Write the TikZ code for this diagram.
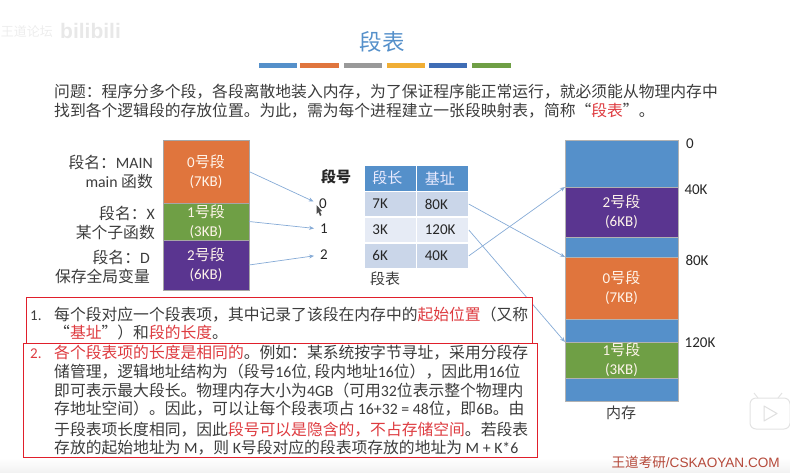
\documentclass[tikz,border=0pt]{standalone}
\usepackage{fontspec}
\setmainfont{Noto Sans CJK SC}
\newfontfamily\latfont{Carlito}
\newfontfamily\markfont{Liberation Sans}
\usepackage{tikz}
\usetikzlibrary{positioning,matrix,arrows.meta}
\definecolor{cOrange}{HTML}{E0753D}
\definecolor{cGreen}{HTML}{6F9F45}
\definecolor{cPurple}{HTML}{5A3590}
\definecolor{cBlue}{HTML}{5590CA}
\definecolor{cGrey}{HTML}{999999}
\definecolor{cYellow}{HTML}{F0AE35}
\definecolor{cDeep}{HTML}{3F6DB5}
\definecolor{cText}{HTML}{3C3C3C}
\definecolor{cRed}{HTML}{DE3B40}
\definecolor{cFrame}{HTML}{E01F2B}
\definecolor{cArrow}{HTML}{86ABD6}
\definecolor{cRowA}{HTML}{CAD6E9}
\definecolor{cRowB}{HTML}{E6EBF5}
\definecolor{cMark}{HTML}{B5493A}
\newcommand{\enf}[1]{{\latfont #1}}
\newcommand{\redt}[1]{\textcolor{cRed}{#1}}
\newcommand{\segtxt}[2]{\enf{#1}号段\\\enf{(#2KB)}}
\newcommand{\bodyfont}{\fontsize{15.8}{19}\selectfont}
\newcommand{\smallfont}{\fontsize{15}{19}\selectfont}
\tikzset{
    seg/.style={draw=gray!70, line width=0.4pt, inner sep=0pt, outer sep=0pt, minimum width=86pt},
    memseg/.style={draw=gray!60, line width=0.4pt, inner sep=0pt, outer sep=0pt, minimum width=113pt},
    segtext/.style={align=center, text=white!92!orange, font=\smallfont, inner sep=0pt},
    namelabel/.style={align=right, anchor=east, text=cText, font=\bodyfont, inner sep=0pt},
    numlabel/.style={text=black!85, font=\smallfont\latfont, inner sep=0pt},
    redbox/.style={fill=white, anchor=north west, inner sep=0pt, outer sep=0pt},
    redline/.style={draw=cFrame, line width=1.1pt},
    bodyline/.style={anchor=base west, text=cText, font=\bodyfont, inner sep=0pt},
    linkarrow/.style={{Stealth[length=5pt,width=4pt]}-, cArrow, line width=0.7pt},
}
\begin{document}
\begin{tikzpicture}[x=1pt,y=-1pt]
\useasboundingbox (0,0) rectangle (790,472);
\shade [top color=white, bottom color=gray!10] (0,458) rectangle (790,472);

% faint logo top left
\node (logoA) [anchor=east, text=gray!14, font=\fontsize{13}{15}\selectfont, inner sep=0pt] at (53,32) {王道论坛};
\node (logoB) [anchor=west, text=gray!18, font=\fontsize{21}{24}\bfseries\markfont, inner sep=0pt] at (60,31) {bilibili};

% title
\node (title) [text=cBlue, font=\fontsize{22.5}{26}\selectfont, inner sep=0pt] at (382,42) {段表};
\foreach \a/\b/\c in {259/297/cBlue,300/339/cOrange,344/382/cGrey,387/425/cYellow,429/467/cDeep,472/511/cGreen}
    \fill [\c] (\a,62.5) rectangle (\b,67.5);

% intro
\node (introA) [bodyline] at (54,97) {问题：程序分多个段，各段离散地装入内存，为了保证程序能正常运行，就必须能从物理内存中};
\node (introB) [bodyline] at (54,116) {找到各个逻辑段的存放位置。为此，需为每个进程建立一张段映射表，简称“\redt{段表}”。};

% program segments
\node (S0) [seg, fill=cOrange, minimum height=63pt, anchor=north west, label={[segtext]center:\segtxt{0}{7}}] at (163,140) {};
\node (S1) [seg, fill=cGreen, minimum height=37pt, below=0pt of S0, label={[segtext]center:\segtxt{1}{3}}] {};
\node (S2) [seg, fill=cPurple, minimum height=50pt, below=0pt of S1, label={[segtext]center:\segtxt{2}{6}}] {};

\node (nameA) [namelabel] at (153,171.5) {段名：\enf{MAIN}\\\enf{main} 函数};
\node (nameB) [namelabel] at (155,222.5) {段名：\enf{X}\\某个子函数};
\node (nameC) [namelabel] at (150,267) {段名：\enf{D}\\保存全局变量};

% segment numbers
\node (noHead) [text=black!85, font=\smallfont\bfseries, inner sep=0pt] at (336,177) {段号};
\node (no0) [numlabel] at (323,204) {0};
\node (no1) [numlabel] at (324,229) {1};
\node (no2) [numlabel] at (324,255) {2};

% segment table
\matrix (T) [matrix of nodes, anchor=north west, inner sep=0pt, outer sep=0pt,
    column sep=-\pgflinewidth, row sep=-\pgflinewidth,
    nodes={draw=white, line width=0.8pt, minimum height=25.5pt, inner ysep=0pt, inner xsep=8pt,
        text width=36pt, align=left, text=black!85, font=\smallfont\latfont, anchor=center},
    row 1/.style={nodes={fill=cBlue, text=white!92!blue, font=\smallfont}},
    row 2/.style={nodes={fill=cRowA}},
    row 3/.style={nodes={fill=cRowB}},
    row 4/.style={nodes={fill=cRowA}},] at (364,165) {
    段长 & 基址\\
    7K & 80K\\
    3K & 120K\\
    6K & 40K\\};
\node (tableName) [text=cText, font=\smallfont, inner sep=0pt] at (385,279) {段表};

% memory
\node (M0) [memseg, fill=cBlue, minimum height=47pt, anchor=north west] at (565,140) {};
\node (M1) [memseg, fill=cPurple, minimum height=50pt, below=0pt of M0, label={[segtext]center:\segtxt{2}{6}}] {};
\node (M2) [memseg, fill=cBlue, minimum height=20pt, below=0pt of M1] {};
\node (M3) [memseg, fill=cOrange, minimum height=62pt, below=0pt of M2, label={[segtext]center:\segtxt{0}{7}}] {};
\node (M4) [memseg, fill=cBlue, minimum height=23pt, below=0pt of M3] {};
\node (M5) [memseg, fill=cGreen, minimum height=36pt, below=0pt of M4, label={[segtext]center:\segtxt{1}{3}}] {};
\node (M6) [memseg, fill=cBlue, minimum height=23pt, below=0pt of M5] {};
\node (memName) [text=cText, font=\smallfont, inner sep=0pt] at (621,413) {内存};

\foreach \ypos/\xpos/\txt [count=\i] in {144/690/0,190/696/40K,260/697/80K,343/700/120K}
    \node (addr\i) [numlabel] at (\xpos,\ypos) {\txt};

% connectors
\foreach \i in {0,1,2}
    \draw [linkarrow, shorten <=6pt] (no\i.west) -- (S\i.east);
\draw [linkarrow] (M3.north west) -- (T-2-2.east);
\draw [linkarrow] (M5.north west) -- (T-3-2.east);
\draw [linkarrow] (M1.north west) -- (T-4-2.east);

% cursor
\fill [black!70] (316.5,205) -- (316.5,214) -- (318.5,212) -- (320,216) -- (321.5,215) -- (320,211.5) -- (322,211) -- cycle;

% notes
\node (boxA) [redbox, minimum width=506pt, minimum height=46pt] at (26.5,297.5) {};
\node (boxB) [redbox, minimum width=514pt, minimum height=114pt] at (23.5,343.5) {};

\node (numA) [text=cText, font=\smallfont\latfont, anchor=base west, inner sep=0pt] at (30,320) {1.};
\node (numB) [text=cRed, font=\smallfont\latfont, anchor=base west, inner sep=0pt] at (30,358) {2.};

\foreach \ypos/\txt [count=\i] in {
    320/{每个段对应一个段表项，其中记录了该段在内存中的\redt{起始位置}（又称},
    338/{“\redt{基址}”）和\redt{段的长度}。},
    358/{\redt{各个段表项的长度是相同的}。例如：某系统按字节寻址，采用分段存},
    377/{储管理，逻辑地址结构为（段号\enf{16}位\enf{,} 段内地址\enf{16}位），因此用\enf{16}位},
    396/{即可表示最大段长。物理内存大小为\enf{4GB}（可用\enf{32}位表示整个物理内},
    414/{存地址空间）。因此，可以让每个段表项占 \enf{16+32 = 48}位，即\enf{6B}。由},
    435/{于段表项长度相同，因此\redt{段号可以是隐含的，不占存储空间}。若段表},
    453/{存放的起始地址为 \enf{M}，则 \enf{K}号段对应的段表项存放的地址为 \enf{M + K*6}}}
    \node (note\i) [bodyline] at (54,\ypos) {\txt};

% outlines
\draw [redline] (boxA.north west) rectangle (boxA.south east)
    (boxB.north west) rectangle (boxB.south east);

% site mark and play button
\node (siteMark) [anchor=base east, text=cMark, font=\fontsize{13.6}{18}\selectfont, inner sep=0pt] at (780,467) {王道考研\markfont /CSKAOYAN.COM};
\draw [gray!22, line width=1pt, fill=white, rounded corners=6pt] (750,398) rectangle (790,429);
\draw [gray!22, line width=1pt] (758,398) -- (754,393) (778,398) -- (782,393);
\draw [gray!25, line width=1pt, line join=round] (764,406) -- (764,421) -- (777,413.5) -- cycle;
\end{tikzpicture}
\end{document}
